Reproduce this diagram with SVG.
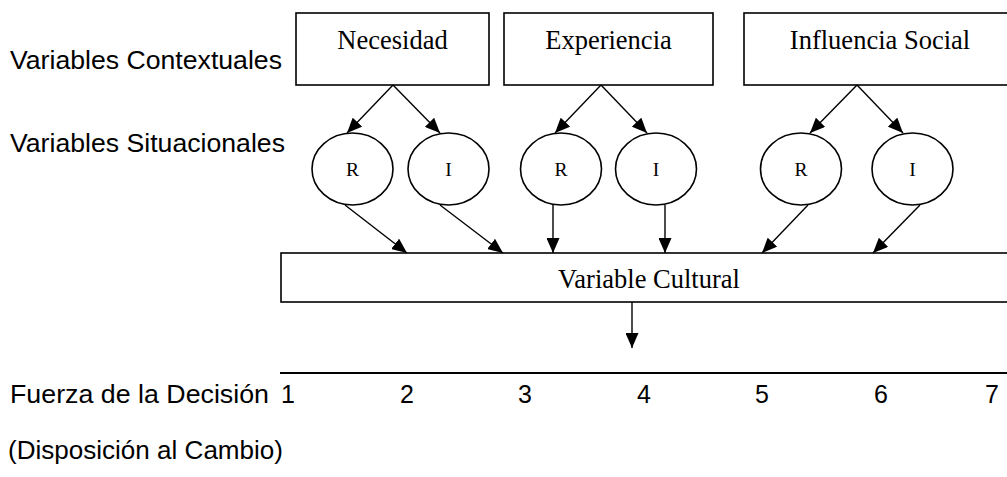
<svg xmlns="http://www.w3.org/2000/svg" width="1007" height="477" viewBox="0 0 1007 477">
  <style>
    .box { fill: #fff; stroke: #000; stroke-width: 1.6; }
    .node { fill: #fff; stroke: #000; stroke-width: 1.6; }
    .serif { font-family: "Liberation Serif", "Times New Roman", serif; fill: #000; }
    .sans { font-family: "Liberation Sans", Arial, sans-serif; font-size: 25px; fill: #000; }
    .lbl { font-size: 26.5px; text-anchor: middle; }
    .small { font-size: 19.5px; text-anchor: middle; }
    .num { text-anchor: middle; }
    .edge { stroke: #000; stroke-width: 1.4; fill: none; marker-end: url(#arrow); }
  </style>
  <defs>
    <marker id="arrow" markerUnits="userSpaceOnUse" markerWidth="16" markerHeight="13" refX="15" refY="6.5" orient="auto">
      <path d="M0,0 L15,6.5 L0,13 z" fill="#000"/>
    </marker>
  </defs>

  <rect width="1007" height="477" fill="#fff"/>

  <!-- row labels -->
  <text class="sans" x="10" y="69" textLength="272" lengthAdjust="spacingAndGlyphs">Variables Contextuales</text>
  <text class="sans" x="10" y="152" textLength="275" lengthAdjust="spacingAndGlyphs">Variables Situacionales</text>
  <text class="sans" x="10" y="403" textLength="259" lengthAdjust="spacingAndGlyphs">Fuerza de la Decisión</text>
  <text class="sans" x="8" y="459" textLength="275" lengthAdjust="spacingAndGlyphs">(Disposición al Cambio)</text>

  <!-- contextual variables -->
  <g id="necesidad">
    <rect class="box" x="296" y="13" width="193" height="72"/>
    <text class="serif lbl" x="392.5" y="49">Necesidad</text>
  </g>
  <g id="experiencia">
    <rect class="box" x="504" y="13" width="209" height="72"/>
    <text class="serif lbl" x="608.5" y="49">Experiencia</text>
  </g>
  <g id="influencia-social">
    <rect class="box" x="744" y="13" width="272" height="72"/>
    <text class="serif lbl" x="880" y="49">Influencia Social</text>
  </g>

  <!-- situational variables -->
  <g id="necesidad-r">
    <ellipse class="node" cx="352.5" cy="169" rx="40.5" ry="36"/>
    <text class="serif small" x="352.5" y="176">R</text>
  </g>
  <g id="necesidad-i">
    <ellipse class="node" cx="448.5" cy="169" rx="40.5" ry="36"/>
    <text class="serif small" x="448.5" y="176">I</text>
  </g>
  <g id="experiencia-r">
    <ellipse class="node" cx="561" cy="169" rx="40.5" ry="36"/>
    <text class="serif small" x="561" y="176">R</text>
  </g>
  <g id="experiencia-i">
    <ellipse class="node" cx="656" cy="169" rx="40.5" ry="36"/>
    <text class="serif small" x="656" y="176">I</text>
  </g>
  <g id="influencia-r">
    <ellipse class="node" cx="801" cy="169" rx="40.5" ry="36"/>
    <text class="serif small" x="801" y="176">R</text>
  </g>
  <g id="influencia-i">
    <ellipse class="node" cx="912.5" cy="169" rx="40.5" ry="36"/>
    <text class="serif small" x="912.5" y="176">I</text>
  </g>

  <!-- cultural variable -->
  <g id="variable-cultural">
    <rect class="box" x="281" y="253" width="735" height="49"/>
    <text class="serif lbl" x="649" y="288">Variable Cultural</text>
  </g>

  <!-- connectors -->
  <g id="connectors">
    <path class="edge" d="M393,85 L347,133"/>
    <path class="edge" d="M393,85 L440,133"/>
    <path class="edge" d="M601,85 L555,133"/>
    <path class="edge" d="M601,85 L647,133"/>
    <path class="edge" d="M857,85 L810,133"/>
    <path class="edge" d="M857,85 L903,133"/>

    <path class="edge" d="M345,205 L407,253"/>
    <path class="edge" d="M440,205 L503,253"/>
    <path class="edge" d="M553,205 L553,253"/>
    <path class="edge" d="M665,205 L665,253"/>
    <path class="edge" d="M808,205 L762,253"/>
    <path class="edge" d="M920,205 L873,253"/>

    <path class="edge" d="M632,302 L632,348"/>
  </g>

  <!-- decision strength scale -->
  <g id="scale">
    <line x1="280" y1="373" x2="1007" y2="373" stroke="#000" stroke-width="2"/>
    <text class="sans num" x="288" y="403">1</text>
    <text class="sans num" x="407" y="403">2</text>
    <text class="sans num" x="525" y="403">3</text>
    <text class="sans num" x="644" y="403">4</text>
    <text class="sans num" x="762" y="403">5</text>
    <text class="sans num" x="881" y="403">6</text>
    <text class="sans num" x="992" y="403">7</text>
  </g>
</svg>
